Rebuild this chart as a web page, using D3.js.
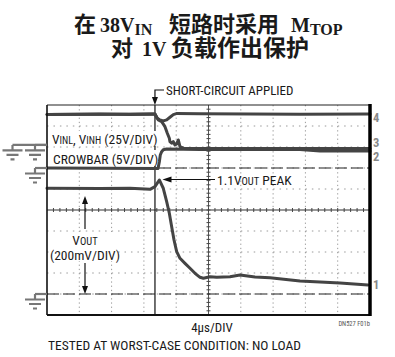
<!DOCTYPE html>
<html><head><meta charset="utf-8">
<script src="https://cdn.jsdelivr.net/npm/d3@7"></script>
<style>
html,body{margin:0;padding:0;background:#fff;}
svg{display:block;}
.cond{font-family:"Liberation Sans Narrow","Arial Narrow","Roboto Condensed","Liberation Sans",sans-serif;}
</style></head>
<body><svg id="c" width="395" height="357"></svg>
<script>
// ---- data (time in µs, 4 µs/div; voltages in volts) ----
const voutTime = [0,6.56,10.28,12.76,13.37,13.91,14.40,14.82,15.15,15.44,15.73,16.06,16.47,17.09,17.71,18.33,18.95,19.36,20.19,21.02,22.66,23.9,25.76,27.61,31.33,33.81,36.28,39.75];
const voutV    = [1.007,1.005,1.007,0.997,1.022,1.086,1.007,0.879,0.769,0.641,0.514,0.403,0.340,0.292,0.245,0.197,0.159,0.150,0.165,0.159,0.165,0.181,0.162,0.155,0.124,0.114,0.105,0.086];

const vinhTime = [0,6.56,10.28,13.0,13.37,13.62,13.99,14.40,14.82,15.23,15.64,16.10,18.95,25.14,31.33,40];
const vinhV    = [37.5,38.1,37.5,38.1,38.1,33.3,31.0,29.8,31.0,34.2,37.3,38.7,38.3,38.1,37.7,38.1];

const vinlTime = [0,13.37,13.78,14.2,14.61,14.9,15.15,15.23,15.44,15.64,15.85,16.06,16.26,16.47,16.88,18.95,31.33,40];
const vinlV    = [37.5,38.1,31.0,28.9,23.0,15.1,9.2,5.1,3.2,5.1,1.2,2.4,7.1,-0.8,-2.7,-3.0,-3.0,-3.0];

const crowTime = [0,13.75,13.91,14.03,14.2,14.4,14.82,18.95,31.33,33.81,40];
const crowV    = [0,-0.1,1.43,3.1,3.88,4.33,4.52,4.4,4.4,4.05,4.05];

// channel settings: ground position (divisions from bottom), volts per division
const channelNames = ["1","2","3","4"];
const groundDiv = [1, 7.0, 8.05, 8.05];
const voltsPerDiv = [0.2, 5, 25, 25];
const labelTexts = ["SHORT-CIRCUIT APPLIED","CROWBAR (5V/DIV)","1.1V","PEAK","(200mV/DIV)","4μs/DIV","TESTED AT WORST-CASE CONDITION: NO LOAD","DN527 F01b"];

// ---- layout ----
const L=47,R=370,T=105,B=315;
const svg=d3.select("#c");
const x=d3.scaleLinear().domain([0,40]).range([L,R]);
const yd=d3.scaleLinear().domain([0,10]).range([B,T]);
const yCh=i=>v=>yd(groundDiv[i]+v/voltsPerDiv[i]);

// title
const title=svg.append("g").attr("font-family","'Liberation Serif','Noto Sans CJK SC',serif").attr("font-weight","bold").attr("fill","#1a1a1a");
const t1=title.append("text").attr("y",32).attr("font-size",22);
t1.append("tspan").attr("x",74).text("在");
t1.append("tspan").attr("x",100).attr("font-size",20).text("38V");
t1.append("tspan").attr("font-size",16).attr("dy",3).text("IN");
t1.append("tspan").attr("x",169).attr("dy",-3).text("短路时采用");
t1.append("tspan").attr("x",291).attr("font-size",20).text("M");
t1.append("tspan").attr("font-size",16).attr("dy",3).text("TOP");
const t2=title.append("text").attr("y",56).attr("font-size",22);
t2.append("tspan").attr("x",111).text("对");
t2.append("tspan").attr("x",142).attr("font-size",20).text("1V");
t2.append("tspan").attr("x",171).attr("font-size",23).text("负载作出保护");

// grid
const g=svg.append("g");
const xDivs=d3.range(1,10), yDivs=d3.range(1,10);
const dx=(R-L)/50, dy=(B-T)/50;
g.selectAll(".vg").data(xDivs.filter(d=>d!==5)).join("line")
 .attr("x1",d=>x(d*4)).attr("x2",d=>x(d*4)).attr("y1",T).attr("y2",B)
 .attr("stroke","#9a9a9a").attr("stroke-width",1).attr("stroke-dasharray",`1.3,${dy-1.3}`);
g.selectAll(".hg").data(yDivs.filter(d=>d!==5)).join("line")
 .attr("y1",d=>yd(d)).attr("y2",d=>yd(d)).attr("x1",L).attr("x2",R)
 .attr("stroke","#9a9a9a").attr("stroke-width",1).attr("stroke-dasharray",`1.5,${dx-1.5}`);
// center axes with minor ticks
g.append("line").attr("x1",x(20)).attr("x2",x(20)).attr("y1",T).attr("y2",B).attr("stroke","#555").attr("stroke-width",1);
g.append("line").attr("y1",yd(5)).attr("y2",yd(5)).attr("x1",L).attr("x2",R).attr("stroke","#333").attr("stroke-width",1.2);
g.selectAll(".tx").data(d3.range(1,50)).join("line")
 .attr("x1",d=>L+d*dx).attr("x2",d=>L+d*dx).attr("y1",yd(5)-2).attr("y2",yd(5)+2).attr("stroke","#444");
g.selectAll(".ty").data(d3.range(1,50)).join("line")
 .attr("y1",d=>T+d*dy).attr("y2",d=>T+d*dy).attr("x1",x(20)-2).attr("x2",x(20)+2).attr("stroke","#444");

// ground reference dashed lines
g.append("line").attr("x1",L).attr("x2",R).attr("y1",yCh(0)(0)).attr("y2",yCh(0)(0)).attr("stroke","#222").attr("stroke-width",1.2).attr("stroke-dasharray","12,4");
g.append("line").attr("x1",L).attr("x2",R).attr("y1",yCh(1)(0)).attr("y2",yCh(1)(0)).attr("stroke","#222").attr("stroke-width",1.2).attr("stroke-dasharray","12,4");

// trigger line
g.append("line").attr("x1",x(13.37)).attr("x2",x(13.37)).attr("y1",T).attr("y2",B).attr("stroke","#222").attr("stroke-width",1.3);

// white label boxes
const boxes=[[49,131,108,15],[49,150,108,16],[52,232,66,29]];
g.selectAll(".bx").data(boxes).join("rect").attr("x",d=>d[0]).attr("y",d=>d[1]).attr("width",d=>d[2]).attr("height",d=>d[3]).attr("fill","#fff");

// traces
const traces=[[crowTime,crowV,1],[vinlTime,vinlV,2],[vinhTime,vinhV,3],[voutTime,voutV,0]];
traces.forEach(([ts,vs,ch])=>{
  const line=d3.line().x(d=>x(d[0])).y(d=>yCh(ch)(d[1])).curve(d3.curveLinear);
  svg.append("path").datum(d3.zip(ts,vs)).attr("d",line).attr("fill","none")
    .attr("stroke","#444").attr("stroke-width",3).attr("stroke-linejoin","round").attr("stroke-linecap","round");
});

// frame
svg.append("line").attr("x1",L).attr("x2",R).attr("y1",T).attr("y2",T).attr("stroke","#222").attr("stroke-width",1.2);
svg.append("line").attr("x1",L).attr("x2",R).attr("y1",B).attr("y2",B).attr("stroke","#111").attr("stroke-width",2);
svg.append("line").attr("x1",L).attr("x2",L).attr("y1",T).attr("y2",B).attr("stroke","#111").attr("stroke-width",1.6);
svg.append("line").attr("x1",R).attr("x2",R).attr("y1",T-1).attr("y2",B+1).attr("stroke","#000").attr("stroke-width",3.5);

// ground symbols
function ground(gx,gy,lineFrom){
  const s=svg.append("g").attr("stroke","#777").attr("stroke-width",2.2).attr("fill","none");
  s.append("path").attr("d",`M${lineFrom},${gy}H${L}`);
  s.append("path").attr("d",`M${gx},${gy}V${gy+5}`);
  s.append("path").attr("d",`M${gx-10},${gy+5.5}H${gx+10}M${gx-6},${gy+10}H${gx+6}M${gx-2},${gy+14.5}H${gx+2}`);
}
ground(12.5,yCh(2)(0)-1,12.5);
ground(35,yCh(2)(0)-1,35);
ground(35,yCh(1)(0),35);
ground(35,yCh(0)(0),35);

// right channel numbers
const rightY=[284,156,142,117];
svg.selectAll(".cn").data(channelNames).join("text").attr("class","cond")
 .attr("x",373).attr("y",(d,i)=>rightY[i]+4.5).attr("font-size",12.5).attr("font-weight","bold").attr("fill","#888").text(d=>d);

// annotations
const ann=svg.append("g").attr("class","cond").attr("fill","#1a1a1a");
const ah=(px,py,dir)=>{ // arrowhead
  const p= dir==="down"? `M${px},${py}L${px-3},${py-8}L${px+3},${py-8}Z`
         : dir==="up"? `M${px},${py}L${px-3},${py+8}L${px+3},${py+8}Z`
         : `M${px},${py}L${px+9},${py-3}L${px+9},${py+3}Z`;
  svg.append("path").attr("d",p).attr("fill","#111");
};
svg.append("path").attr("d",`M164,90H${x(13.37)}V98`).attr("fill","none").attr("stroke","#111").attr("stroke-width",1.2);
ah(x(13.37),105,"down");
ann.append("text").attr("x",166).attr("y",94.5).attr("font-size",13).text(labelTexts[0]);

const vin=ann.append("text").attr("x",52).attr("y",144).attr("font-size",13.5);
vin.append("tspan").text("V");
vin.append("tspan").attr("font-size",10).text("INL");
vin.append("tspan").text(", V");
vin.append("tspan").attr("font-size",10).text("INH");
vin.append("tspan").text(" (25V/DIV)");
ann.append("text").attr("x",53).attr("y",164).attr("font-size",13.5).text(labelTexts[1]);

svg.append("line").attr("x1",215).attr("x2",170).attr("y1",179.5).attr("y2",179.5).attr("stroke","#111").attr("stroke-width",1.2);
ah(162.5,179.5,"left");
const pk=ann.append("text").attr("x",217).attr("y",184.5).attr("font-size",13.5);
pk.append("tspan").text(labelTexts[2]);
pk.append("tspan").attr("font-size",10.5).text("OUT");
pk.append("tspan").text(" "+labelTexts[3]);

const vo=ann.append("text").attr("x",85).attr("y",245).attr("font-size",13.5).attr("text-anchor","middle");
vo.append("tspan").text("V");
vo.append("tspan").attr("font-size",10.5).text("OUT");
ann.append("text").attr("x",85).attr("y",259.5).attr("font-size",13.5).attr("text-anchor","middle").text(labelTexts[4]);
svg.append("line").attr("x1",85).attr("x2",85).attr("y1",229).attr("y2",203).attr("stroke","#111").attr("stroke-width",1.2);
ah(85,196,"up");
svg.append("line").attr("x1",85).attr("x2",85).attr("y1",263).attr("y2",287).attr("stroke","#111").attr("stroke-width",1.2);
ah(85,294,"down");

ann.append("text").attr("x",212).attr("y",332).attr("font-size",13).attr("text-anchor","middle").text(labelTexts[5]);
ann.append("text").attr("x",48).attr("y",350).attr("font-size",13.5).text(labelTexts[6]);
ann.append("text").attr("x",370).attr("y",326).attr("font-size",6.5).attr("text-anchor","end").attr("fill","#555").text(labelTexts[7]);
</script></body></html>
